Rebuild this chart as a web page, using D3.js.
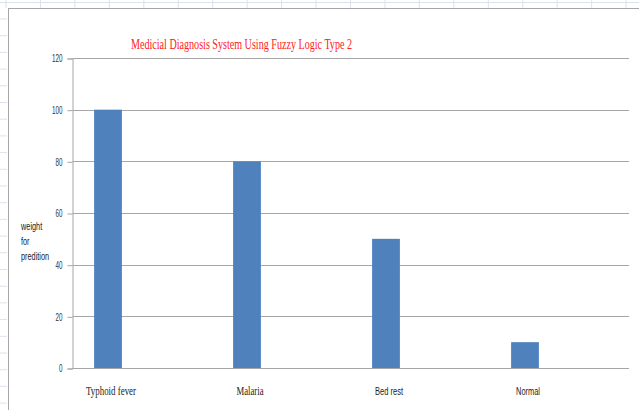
<!DOCTYPE html>
<html>
<head>
<meta charset="utf-8">
<script src="https://cdn.jsdelivr.net/npm/d3@7"></script>
<style>
html,body{margin:0;padding:0;background:#fff;overflow:hidden;}
svg{display:block;}
</style>
</head>
<body>
<svg id="chart" width="639" height="410"></svg>
<script>
const categories = ["Typhoid fever", "Malaria", "Bed rest", "Normal"];
const values = [100, 80, 50, 10];
const yTicks = [0, 20, 40, 60, 80, 100, 120];
const titleText = "Medicial Diagnosis System Using Fuzzy Logic Type 2";
const yTitleLines = ["weight", "for", "predition"];
const serifLabels = ["Typhoid fever", "Malaria"];

const SERIF = "'Liberation Serif','Times New Roman','DejaVu Serif',serif";
const NARROW = "'Liberation Sans Narrow','Arial Narrow','Liberation Sans',sans-serif";

const svg = d3.select("#chart");
const W = 639, H = 410;

// spreadsheet background
const bg = svg.append("g");
bg.append("rect").attr("x",0).attr("y",0).attr("width",W).attr("height",H).attr("fill","#ffffff");
const colLines = d3.range(6, W, 34.45);
bg.selectAll("line.col").data(colLines).join("line")
  .attr("x1", d=>d).attr("x2", d=>d).attr("y1",0).attr("y2",8)
  .attr("stroke","#dbe3ee").attr("stroke-width",1);
bg.append("line").attr("x1",0).attr("x2",W).attr("y1",2.5).attr("y2",2.5)
  .attr("stroke","#dbe3ee").attr("stroke-width",1);
const rowLines = d3.range(19, H, 16.7);
bg.selectAll("line.row").data(rowLines).join("line")
  .attr("x1",0).attr("x2",7).attr("y1",d=>d).attr("y2",d=>d)
  .attr("stroke","#dbe3ee").attr("stroke-width",1);

// chart area
svg.append("rect").attr("x",8.5).attr("y",8.5).attr("width",W).attr("height",H)
  .attr("fill","#ffffff").attr("stroke","#a6a6a6").attr("stroke-width",1);

const plotLeft = 72.5, plotRight = 629;
const x = d3.scaleBand().domain(categories).range([38.5, 594.5])
  .paddingInner(0.8).paddingOuter(0.4);
const y = d3.scaleLinear().domain([0,120]).range([368, 58]);

// gridlines
svg.append("g").selectAll("line").data(yTicks.filter(t=>t>0)).join("line")
  .attr("x1", plotLeft).attr("x2", plotRight)
  .attr("y1", d=>Math.round(y(d))+0.5).attr("y2", d=>Math.round(y(d))+0.5)
  .attr("stroke","#a6a6a6").attr("stroke-width",1);

// y axis
const yAxis = d3.axisLeft(y).tickValues(yTicks).tickSize(5).tickPadding(5);
const ya = svg.append("g").attr("transform",`translate(${plotLeft},0.5)`).call(yAxis);
ya.select(".domain").attr("stroke","#a6a6a6");
ya.selectAll(".tick line").attr("stroke","#a6a6a6");
ya.selectAll(".tick text").attr("fill","#333")
  .style("font-family",NARROW)
  .style("font-size","10.5px")
  .attr("textLength", d=>String(d).length*3.5)
  .attr("lengthAdjust","spacingAndGlyphs");

// bars
svg.append("g").selectAll("rect").data(values).join("rect")
  .attr("x",(d,i)=>x(categories[i]))
  .attr("width", x.bandwidth())
  .attr("y", d=>y(d))
  .attr("height", d=>y(0)-y(d))
  .attr("fill","#4f81bd");

// x axis line
svg.append("line").attr("x1",plotLeft).attr("x2",plotRight)
  .attr("y1",Math.round(y(0))+0.5).attr("y2",Math.round(y(0))+0.5)
  .attr("stroke","#a6a6a6").attr("stroke-width",1);

// x labels
svg.append("g").selectAll("text").data(categories).join("text")
  .attr("x", d=>x(d)+x.bandwidth()/2+3)
  .attr("y", 395)
  .attr("text-anchor","middle")
  .attr("fill","#222")
  .style("font-family", d=>serifLabels.includes(d) ? SERIF : NARROW)
  .style("font-size", d=>serifLabels.includes(d) ? "11.5px" : "10.5px")
  .attr("textLength", d=>({"Typhoid fever":50,"Malaria":27,"Bed rest":28,"Normal":24})[d])
  .attr("lengthAdjust","spacingAndGlyphs")
  .text(d=>d);

// y title (horizontally condensed via transform)
svg.append("g").selectAll("text").data(yTitleLines).join("text")
  .attr("transform",(d,i)=>`translate(21,${230+i*15}) scale(0.7,1)`)
  .attr("fill","#222")
  .style("font-family",NARROW)
  .style("font-size","10.5px")
  .text(d=>d);

// title
svg.append("text").attr("x",131).attr("y",49)
  .attr("fill","#ff2020")
  .style("font-family",SERIF)
  .style("font-size","14px")
  .attr("textLength",221).attr("lengthAdjust","spacingAndGlyphs")
  .text(titleText);
</script>
</body>
</html>
